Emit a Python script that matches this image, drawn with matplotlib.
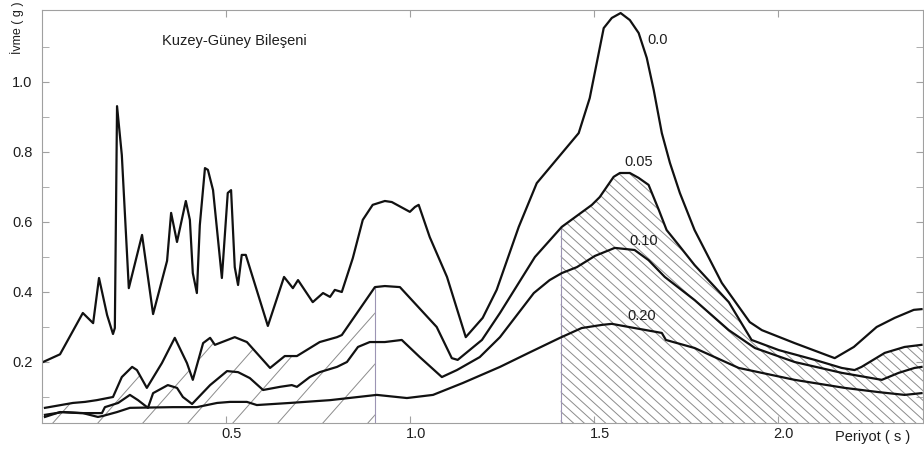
import numpy as np
import matplotlib
matplotlib.use("Agg")
import matplotlib.pyplot as plt
import matplotlib.transforms as mtrans
from matplotlib.collections import LineCollection

plt.rcParams['font.family'] = ['Liberation Sans', 'DejaVu Sans']

# ---- data (period s, spectral acceleration g) ----
x00 = [0.003, 0.049, 0.111, 0.139, 0.155, 0.177, 0.193, 0.198, 0.204, 0.217, 0.226, 0.236,
       0.272, 0.302, 0.340, 0.351, 0.367, 0.391, 0.402, 0.410, 0.421, 0.429, 0.443, 0.451,
       0.465, 0.489, 0.505, 0.514, 0.524, 0.533, 0.543, 0.554, 0.614, 0.658, 0.682, 0.696,
       0.736, 0.764, 0.783, 0.796, 0.815, 0.845, 0.872, 0.899, 0.932, 0.951, 1.000, 1.014,
       1.024, 1.054, 1.101, 1.152, 1.198, 1.236, 1.296, 1.345, 1.459, 1.489, 1.527, 1.549,
       1.573, 1.598, 1.622, 1.644, 1.663, 1.685, 1.707, 1.734, 1.774, 1.848, 1.924, 1.957,
       2.046, 2.155, 2.207, 2.269, 2.318, 2.370, 2.391]
y00 = [0.200, 0.222, 0.340, 0.311, 0.440, 0.334, 0.280, 0.297, 0.931, 0.791, 0.611, 0.411,
       0.563, 0.337, 0.489, 0.626, 0.543, 0.660, 0.606, 0.454, 0.397, 0.591, 0.754, 0.749,
       0.691, 0.440, 0.683, 0.691, 0.471, 0.420, 0.506, 0.506, 0.303, 0.443, 0.411, 0.434,
       0.371, 0.397, 0.386, 0.406, 0.400, 0.497, 0.606, 0.649, 0.660, 0.657, 0.629, 0.643,
       0.649, 0.557, 0.443, 0.271, 0.326, 0.406, 0.586, 0.711, 0.854, 0.954, 1.154, 1.183,
       1.197, 1.177, 1.140, 1.069, 0.977, 0.854, 0.769, 0.683, 0.577, 0.426, 0.314, 0.291,
       0.254, 0.211, 0.243, 0.300, 0.326, 0.349, 0.351]

x05 = [0.008, 0.084, 0.117, 0.149, 0.193, 0.217, 0.245, 0.258, 0.285, 0.326, 0.361, 0.394,
       0.410, 0.438, 0.457, 0.470, 0.524, 0.557, 0.620, 0.660, 0.693, 0.755, 0.802, 0.815,
       0.905, 0.932, 0.973, 1.073, 1.114, 1.130, 1.196, 1.245, 1.340, 1.413, 1.495, 1.516,
       1.554, 1.571, 1.598, 1.622, 1.649, 1.677, 1.698, 1.731, 1.774, 1.867, 1.929, 2.003,
       2.101, 2.174, 2.209, 2.228, 2.291, 2.345, 2.391]
y05 = [0.069, 0.083, 0.086, 0.091, 0.100, 0.157, 0.186, 0.177, 0.126, 0.197, 0.269, 0.197,
       0.149, 0.254, 0.269, 0.249, 0.271, 0.257, 0.183, 0.217, 0.217, 0.257, 0.271, 0.277,
       0.414, 0.417, 0.414, 0.300, 0.211, 0.206, 0.263, 0.340, 0.500, 0.586, 0.649, 0.671,
       0.729, 0.740, 0.740, 0.726, 0.706, 0.634, 0.577, 0.534, 0.477, 0.371, 0.263, 0.234,
       0.206, 0.183, 0.177, 0.186, 0.226, 0.243, 0.249]

x10 = [0.008, 0.049, 0.103, 0.163, 0.171, 0.207, 0.239, 0.261, 0.288, 0.302, 0.342, 0.367,
       0.383, 0.408, 0.457, 0.503, 0.533, 0.565, 0.601, 0.647, 0.679, 0.693, 0.728, 0.755,
       0.802, 0.829, 0.859, 0.891, 0.932, 0.978, 1.027, 1.087, 1.128, 1.190, 1.245, 1.337,
       1.380, 1.413, 1.454, 1.503, 1.557, 1.611, 1.649, 1.693, 1.774, 1.867, 1.938, 2.046,
       2.174, 2.283, 2.329, 2.372, 2.391]
y10 = [0.043, 0.057, 0.054, 0.054, 0.071, 0.083, 0.106, 0.091, 0.069, 0.111, 0.134, 0.126,
       0.100, 0.080, 0.134, 0.174, 0.171, 0.154, 0.120, 0.129, 0.134, 0.129, 0.157, 0.171,
       0.186, 0.200, 0.243, 0.257, 0.257, 0.263, 0.214, 0.157, 0.177, 0.214, 0.271, 0.397,
       0.434, 0.454, 0.471, 0.503, 0.526, 0.520, 0.491, 0.443, 0.377, 0.291, 0.240, 0.200,
       0.169, 0.149, 0.169, 0.183, 0.186]

x20 = [0.008, 0.057, 0.111, 0.152, 0.166, 0.204, 0.239, 0.356, 0.421, 0.476, 0.511, 0.557,
       0.584, 0.674, 0.783, 0.910, 0.992, 1.063, 1.144, 1.245, 1.323, 1.408, 1.467, 1.522,
       1.549, 1.611, 1.685, 1.696, 1.774, 1.894, 2.046, 2.182, 2.274, 2.345, 2.391]
y20 = [0.049, 0.057, 0.054, 0.043, 0.046, 0.057, 0.069, 0.071, 0.071, 0.083, 0.086, 0.086,
       0.077, 0.083, 0.091, 0.106, 0.097, 0.106, 0.140, 0.186, 0.226, 0.269, 0.297, 0.306,
       0.309, 0.297, 0.283, 0.263, 0.240, 0.183, 0.149, 0.126, 0.114, 0.106, 0.111]

damping_labels = ["0.0", "0.05", "0.10", "0.20"]
label_pos_x = [1.674, 1.622, 1.636, 1.630]
label_pos_y = [1.120, 0.771, 0.546, 0.331]

hatch_left = (0.0, 0.905)
hatch_right = (1.41, 2.40)

xtick_vals = [0.5, 1.0, 1.5, 2.0]
xtick_labels = ["0.5", "1.0", "1.5", "2.0"]
ytick_vals = [0.2, 0.4, 0.6, 0.8, 1.0]
ytick_labels = ["0.2", "0.4", "0.6", "0.8", "1.0"]

title = "Kuzey-Güney Bileşeni"
xlabel = "Periyot ( s )"
ylabel = "İvme ( g )"

# ---- figure ----
W, H = 924, 450
fig = plt.figure(figsize=(W / 100, H / 100), dpi=100)
ax = fig.add_axes([42 / W, 1 - 423 / H, (923 - 42) / W, (423 - 10) / H])
XMIN, XMAX = 0.0, 2.395
YMIN, YMAX = 0.0257, 1.2057
ax.set_xlim(XMIN, XMAX)
ax.set_ylim(YMIN, YMAX)

grey = '#a0a0a0'
txt = '#1e1e1e'
for sp in ax.spines.values():
    sp.set_color(grey)
    sp.set_linewidth(0.8)

xs05 = np.array(x05)
ys05 = np.array(y05)


def region_hatch(x0, x1, edge_x, spacing_px, slope_px, color):
    # polygon: under the 0.05 curve between x0 and x1
    m = (xs05 > x0) & (xs05 < x1)
    px = np.concatenate([[x0], xs05[m], [x1]])
    py = np.concatenate([[np.interp(x0, xs05, ys05)], ys05[m], [np.interp(x1, xs05, ys05)]])
    poly = ax.fill_between(px, YMIN - 0.05, py, facecolor='none', edgecolor='none')
    clip = poly.get_paths()[0]
    sx = 881 / (XMAX - XMIN)
    sy = 413 / (YMAX - YMIN)
    dxd = spacing_px / sx
    slope = slope_px * sy / sx
    segs = []
    ylo, yhi = YMIN - 0.05, 1.3
    span = (yhi - ylo) / abs(slope)
    k = x0 - span - dxd
    while k < x1 + span + dxd:
        if slope > 0:
            segs.append([(k, ylo), (k + span, yhi)])
        else:
            segs.append([(k, yhi), (k + span, ylo)])
        k += dxd
    lc = LineCollection(segs, colors=color, linewidths=0.7)
    ax.add_collection(lc)
    lc.set_clip_path(clip, ax.transData)
    ax.vlines([edge_x], YMIN - 0.05, [np.interp(edge_x, xs05, ys05)],
              colors='#9c94b4', linewidth=0.8)


region_hatch(hatch_left[0], hatch_left[1], hatch_left[1], 45, 1.25, '#8c8c8c')
region_hatch(hatch_right[0], hatch_right[1], hatch_right[0], 10.7, -1.0, '#8c8c8c')

for xs, ys in [(x00, y00), (x05, y05), (x10, y10), (x20, y20)]:
    ax.plot(xs, ys, color='#111111', linewidth=1.6, solid_joinstyle='round')

for t, lx, ly in zip(damping_labels, label_pos_x, label_pos_y):
    ax.text(lx, ly, t, fontsize=10.5, ha='center', va='center', color=txt)

ax.text(0.524, 1.117, title, fontsize=10.5, ha='center', va='center', color=txt)

ax.set_xticks(xtick_vals)
ax.set_xticklabels(xtick_labels)
ax.set_yticks(ytick_vals)
ax.set_yticklabels(ytick_labels)
ax.set_yticks(np.arange(0.1, 1.2, 0.1), minor=True)
ax.tick_params(axis='both', which='both', direction='in', colors=grey,
               labelcolor=txt, labelsize=10.5, top=True, right=True)
ax.tick_params(axis='y', which='major', length=5, pad=7)
ax.tick_params(axis='y', which='minor', length=5)
ax.tick_params(axis='x', which='major', length=5, pad=3)

shift = mtrans.ScaledTranslation(6 / 100, 0, fig.dpi_scale_trans)
for lab in ax.get_xticklabels():
    lab.set_transform(lab.get_transform() + shift)

fig.text(873 / W, 1 - 437 / H, xlabel, fontsize=10.5, ha='center', va='center', color=txt)
fig.text(17 / W, 1 - 2 / H, ylabel, fontsize=9, rotation=90, ha='center', va='top',
         color=txt)

fig.savefig("out.png", dpi=100)
